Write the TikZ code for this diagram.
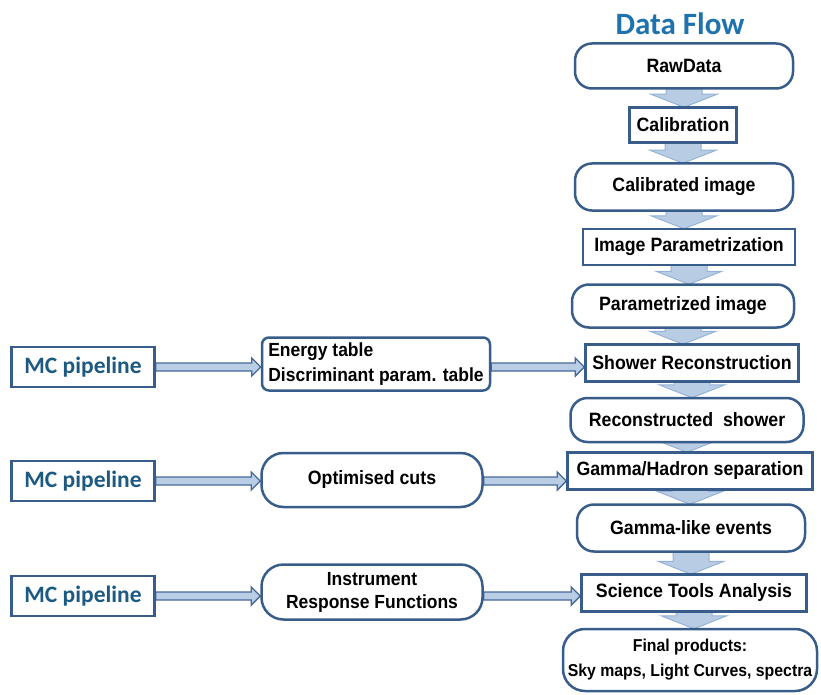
\documentclass[tikz,border=0pt]{standalone}
\usepackage{fontspec}
\setmainfont{Liberation Sans}[FakeStretch=0.92]
\newfontfamily\calfont{Carlito}
\usetikzlibrary{calc,backgrounds}
\definecolor{nodeb}{RGB}{56,93,138}
\definecolor{titleblue}{RGB}{30,115,175}
\definecolor{mcblue}{RGB}{28,90,130}
\definecolor{varfill}{RGB}{184,204,228}
\definecolor{varline}{RGB}{149,179,215}
\definecolor{harfill}{RGB}{185,205,229}
\definecolor{harline}{RGB}{70,105,155}
\tikzset{
  base/.style={draw=nodeb, line width=2.5pt, fill=white, inner sep=0pt, align=center,
    font=\bfseries\fontsize{19.3}{22}\selectfont},
  stadium/.style={base, rounded corners=17pt},
  boxrect/.style={base},
  mcbox/.style={base, minimum width=143pt, minimum height=40pt, text=mcblue,
    font=\calfont\bfseries\fontsize{23.5}{25}\selectfont},
  varr/.style={fill=varfill, draw=varline, line width=1pt},
  harr/.style={fill=harfill, draw=harline, line width=1.4pt, line join=miter},
}
\newcommand\vflow[2]{%
  \filldraw[varr] let \p1=(#1.south), \p2=(#2.north) in
    (\x1-18pt,\y1+2pt) -- (\x1-18pt,\y2+12pt) -- (\x1-33pt,\y2+12pt) -- (\x1,\y2-1pt)
    -- (\x1+33pt,\y2+12pt) -- (\x1+18pt,\y2+12pt) -- (\x1+18pt,\y1+2pt) -- cycle;}
\newcommand\hflow[3]{%
  \filldraw[harr] let \p1=(#1.east), \p2=(#2.west), \p3=(#3.center) in
    (\x1,\y3+4pt) -- (\x2-9pt,\y3+4pt) -- (\x2-9pt,\y3+9pt) -- (\x2,\y3)
    -- (\x2-9pt,\y3-9pt) -- (\x2-9pt,\y3-4pt) -- (\x1,\y3-4pt) -- cycle;}
\begin{document}
\begin{tikzpicture}[x=1pt,y=-1pt]
\useasboundingbox (0,0) rectangle (821,695);
% title
\node[text=titleblue, font=\calfont\bfseries\fontsize{31}{34}\selectfont] (title) at (680,24) {Data Flow};
% main chain
\node[stadium, minimum width=218pt, minimum height=45pt] (raw) at (684,66) {RawData};
\node[boxrect, minimum width=107pt, minimum height=35pt] (cal) at (683,125) {Calibration};
\node[stadium, minimum width=218pt, minimum height=47pt] (calimg) at (684,187) {Calibrated image};
\node[boxrect, minimum width=212pt, minimum height=36pt] (ipar) at (689,247) {Image Parametrization};
\node[stadium, minimum width=222pt, minimum height=43pt] (parimg) at (683,306) {Parametrized image};
\node[boxrect, minimum width=213pt, minimum height=37pt] (shower) at (692,363) {Shower Reconstruction};
\node[stadium, minimum width=233pt, minimum height=44pt] (recshow) at (687,420) {Reconstructed\ \ shower};
\node[boxrect, minimum width=245pt, minimum height=37pt] (gh) at (690,471) {Gamma/Hadron separation};
\node[stadium, minimum width=228pt, minimum height=47pt] (glike) at (691,528) {Gamma-like events};
\node[boxrect, minimum width=225pt, minimum height=37pt] (sci) at (694,593) {Science Tools Analysis};
\node[stadium, rounded corners=22pt, minimum width=254pt, minimum height=62pt,
  font=\bfseries\fontsize{17.2}{25}\selectfont] (final) at (690,660) {Final products:\\Sky maps, Light Curves, spectra};
% left side
\node[mcbox] (mc1) at (83,367) {MC pipeline};
\node[base, rounded corners=7pt, minimum width=228pt, minimum height=53pt, align=left,
  font=\bfseries\fontsize{19}{25}\selectfont] (energy) at (376,364) {Energy table\\Discriminant param. table};
\node[mcbox] (mc2) at (83,481) {MC pipeline};
\node[stadium, rounded corners=22pt, minimum width=221pt, minimum height=54pt] (opt) at (372,480) {Optimised cuts};
\node[mcbox] (mc3) at (83,596) {MC pipeline};
\node[stadium, rounded corners=22pt, minimum width=221pt, minimum height=55pt, font=\bfseries\fontsize{19}{23}\selectfont] (irf) at (372,592) {Instrument\\Response Functions};
% connectors
\begin{scope}[on background layer]
  \fill[white] (0,0) rectangle (821,695);
  \vflow{raw}{cal}
  \vflow{cal}{calimg}
  \vflow{calimg}{ipar}
  \vflow{ipar}{parimg}
  \vflow{parimg}{shower}
  \vflow{shower}{recshow}
  \vflow{recshow}{gh}
  \vflow{gh}{glike}
  \vflow{glike}{sci}
  \vflow{sci}{final}
  \hflow{mc1}{energy}{mc1}
  \hflow{energy}{shower}{mc1}
  \hflow{mc2}{opt}{mc2}
  \hflow{opt}{gh}{mc2}
  \hflow{mc3}{irf}{mc3}
  \hflow{irf}{sci}{mc3}
\end{scope}
\end{tikzpicture}
\end{document}
